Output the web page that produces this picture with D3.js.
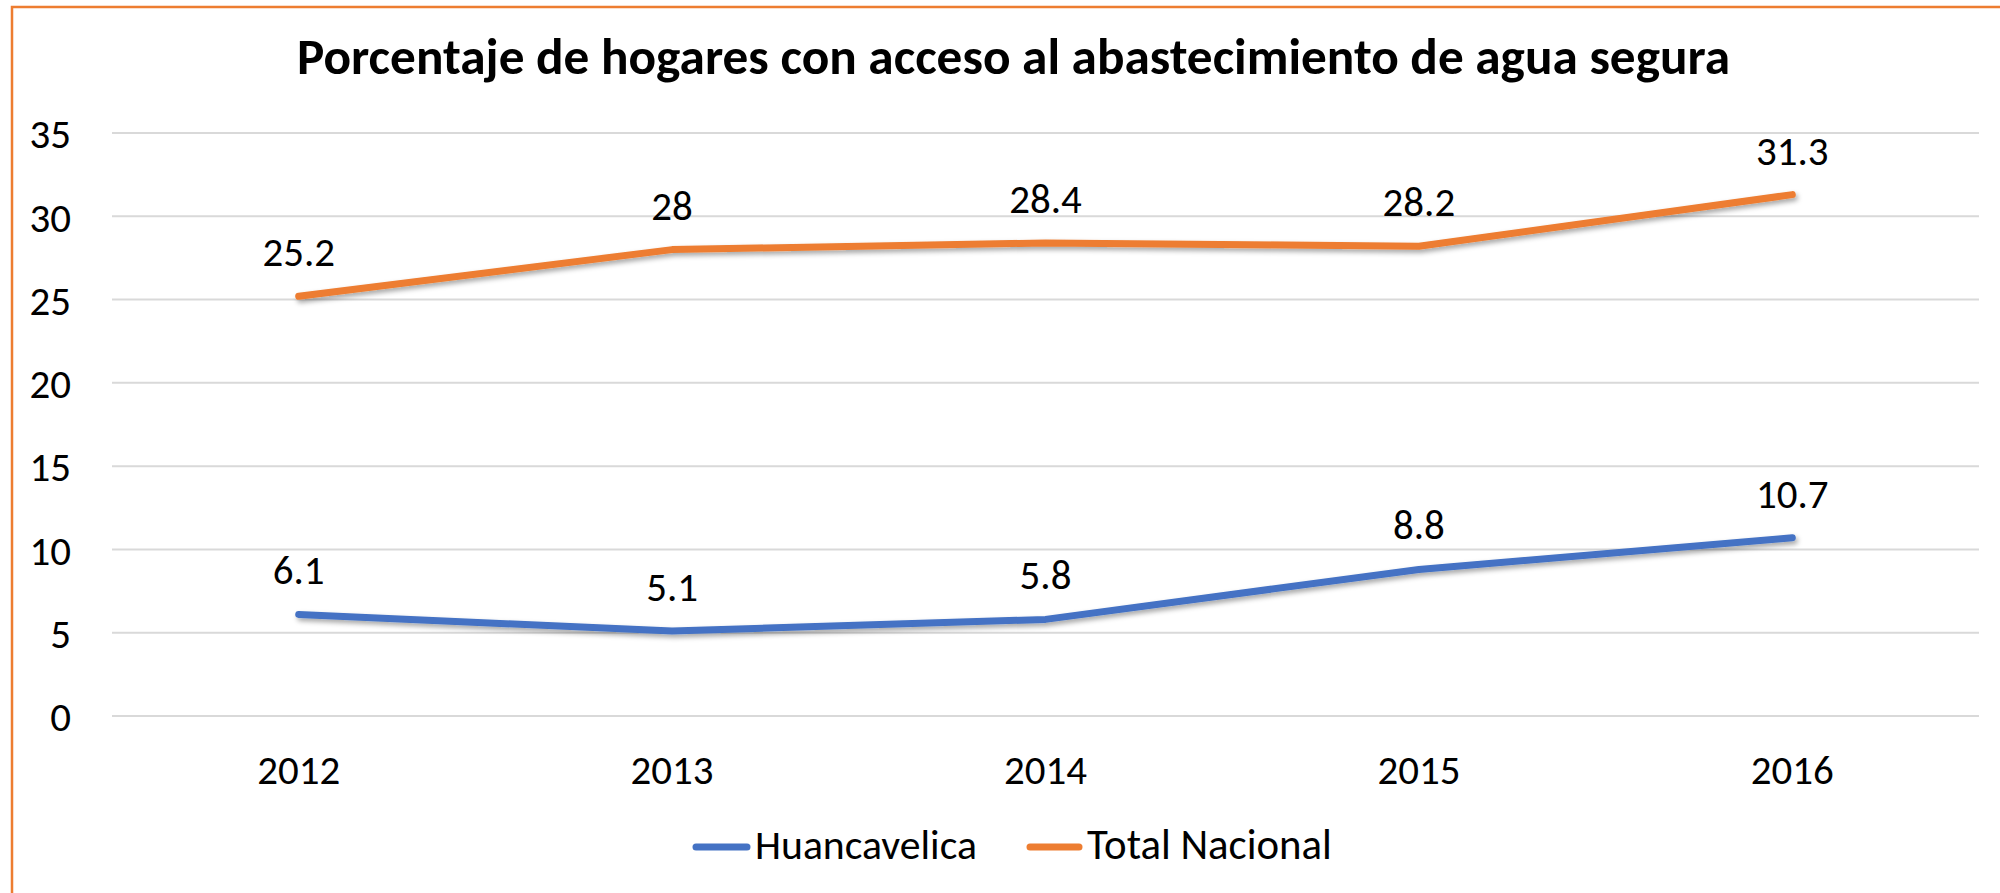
<!DOCTYPE html>
<html><head><meta charset="utf-8">
<script src="https://cdn.jsdelivr.net/npm/d3@7"></script>
<style>body{margin:0;background:#fff}svg{display:block}</style>
</head><body>
<script>
const years = ["2012","2013","2014","2015","2016"];
const huancavelica = [6.1,5.1,5.8,8.8,10.7];
const totalNacional = [25.2,28,28.4,28.2,31.3];
const yTicks = [0,5,10,15,20,25,30,35];
const seriesNames = ["Huancavelica","Total Nacional"];
const colors = ["#4472C4","#ED7D31"];
const title = "Porcentaje de hogares con acceso al abastecimiento de agua segura";

const W=2000,H=893;
const font = "Carlito, Calibri, Lato, sans-serif";
const svg = d3.select("body").append("svg").attr("width",W).attr("height",H);
const defs = svg.append("defs");
const f = defs.append("filter").attr("id","sh").attr("x","-10%").attr("y","-50%").attr("width","120%").attr("height","200%");
f.append("feDropShadow").attr("dx",2).attr("dy",3).attr("stdDeviation",2.5).attr("flood-color","#000").attr("flood-opacity",0.35);

function fit(sel, target){
  sel.attr("font-size",100);
  const w = sel.node().getComputedTextLength();
  sel.attr("font-size", 100*target/w);
}

svg.append("rect").attr("x",12).attr("y",7).attr("width",2200).attr("height",1200)
  .attr("fill","none").attr("stroke","#ED7D31").attr("stroke-width",2.5);

const x = d3.scaleBand().domain(years).range([112,1979]);
const y = d3.scaleLinear().domain([0,35]).range([716,133]);

const probe = svg.append("text").attr("font-family",font).text("2012");
fit(probe,83);
const numSize = +probe.attr("font-size");
probe.remove();

svg.append("g").selectAll("line").data(yTicks).join("line")
  .attr("x1",112).attr("x2",1979).attr("y1",d=>y(d)).attr("y2",d=>y(d))
  .attr("stroke","#d9d9d9").attr("stroke-width",2);

const yAxis = d3.axisLeft(y).tickValues(yTicks).tickSize(0).tickPadding(0);
const gy = svg.append("g").attr("transform","translate(71,0)").call(yAxis);
gy.select(".domain").remove();
gy.selectAll("text").attr("font-family",font).attr("font-size",numSize).attr("fill","#000").attr("dy","0.36em");

const xAxis = d3.axisBottom(x).tickSize(0).tickPadding(0);
const gx = svg.append("g").attr("transform","translate(0,784)").call(xAxis);
gx.select(".domain").remove();
gx.selectAll("text").attr("font-family",font).attr("font-size",numSize).attr("fill","#000").attr("dy","0");

const cx = d=>x(d)+x.bandwidth()/2;
const line = d3.line().x((d,i)=>cx(years[i])).y(d=>y(d));
const series=[huancavelica,totalNacional];
series.forEach((s,k)=>{
  svg.append("path").datum(s).attr("d",line).attr("fill","none")
    .attr("stroke",colors[k]).attr("stroke-width",7).attr("stroke-linecap","round").attr("stroke-linejoin","round")
    .attr("filter","url(#sh)");
});
series.forEach((s,k)=>{
  svg.append("g").selectAll("text").data(s).join("text")
    .attr("x",(d,i)=>cx(years[i])).attr("y",d=>y(d)-30)
    .attr("text-anchor","middle").attr("font-family",font).attr("font-size",numSize).attr("fill","#000")
    .text(d=>String(d));
});

const t = svg.append("text").attr("x",1013.5).attr("y",74).attr("text-anchor","middle")
  .attr("font-family",font).attr("font-weight","bold").attr("fill","#000").text(title);
fit(t,1433);

const leg = svg.append("g");
const items=[{x:693,w:57,tx:755,tw:222,t:seriesNames[0],c:colors[0]},{x:1027,w:55,tx:1087,tw:245,t:seriesNames[1],c:colors[1]}];
items.forEach(it=>{
  leg.append("line").attr("x1",it.x+3).attr("x2",it.x+it.w-3).attr("y1",847).attr("y2",847)
    .attr("stroke",it.c).attr("stroke-width",7).attr("stroke-linecap","round");
  const tt = leg.append("text").attr("x",it.tx).attr("y",859).attr("font-family",font).attr("fill","#000").text(it.t);
  fit(tt,it.tw);
});
</script>
</body></html>
